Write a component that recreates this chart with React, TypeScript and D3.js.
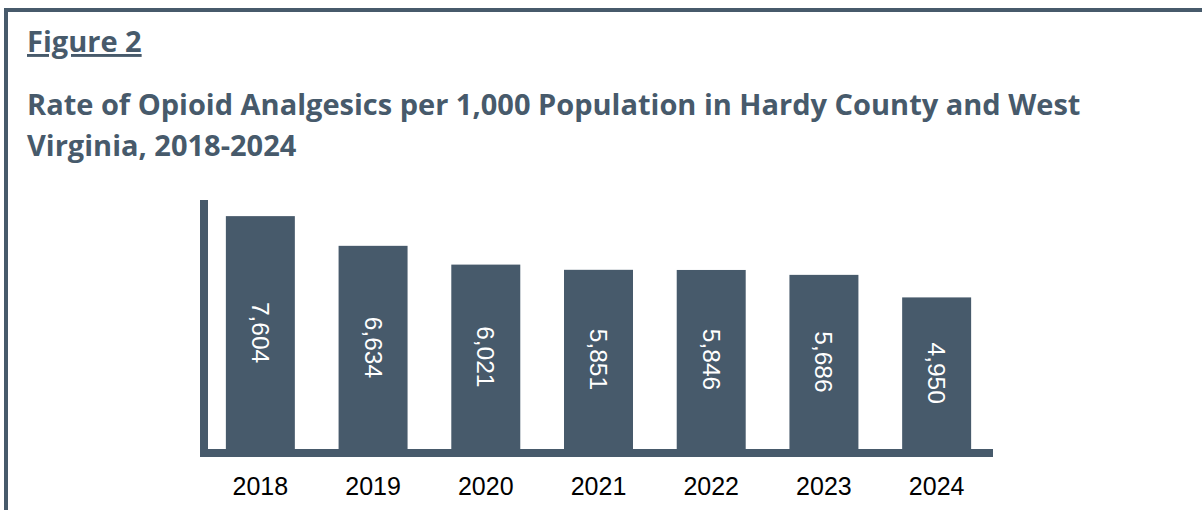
import React from "react";
import * as d3 from "d3";

const years = ["2018", "2019", "2020", "2021", "2022", "2023", "2024"];
const rates = [7604, 6634, 6021, 5851, 5846, 5686, 4950];
const yMax = 8000;
const figureLabel = "Figure 2";
const titleLines = [
  "Rate of Opioid Analgesics per 1,000 Population in Hardy County and West",
  "Virginia, 2018-2024",
];

const W = 1202;
const H = 510;
const SLATE = "#475a6b";

export default function App() {
  const x = d3.scaleBand<string>().domain(years).range([204, 993]).paddingInner(0.388).paddingOuter(0.194);
  const y = d3.scaleLinear().domain([0, yMax]).range([449, 204]);
  const fmt = d3.format(",");
  const titleFont = "'Open Sans', 'Noto Sans', sans-serif";
  const baselines = [115, 156];
  return (
    <svg width={W} height={H} style={{ position: "fixed", left: 0, top: 0, background: "#fff" }}>
      <rect x={0} y={0} width={W} height={H} fill="#fff" />
      {/* frame */}
      <rect x={6} y={10} width={W + 10} height={H + 10} fill="none" stroke={SLATE} strokeWidth={4} />
      <text x={27} y={52} fontFamily={titleFont} fontWeight={700} fontSize={29} fill={SLATE} textDecoration="underline">
        {figureLabel}
      </text>
      {titleLines.map((t, i) => (
        <text key={i} x={27} y={baselines[i]} fontFamily={titleFont} fontWeight={700} fontSize={29} fill={SLATE}>
          {t}
        </text>
      ))}
      {/* bars */}
      {years.map((yr, i) => {
        const bx = x(yr)!;
        const by = y(rates[i]);
        const bh = y(0) - by;
        const cx = bx + x.bandwidth() / 2;
        const cy = by + bh / 2;
        return (
          <g key={yr}>
            <rect x={bx} y={by} width={x.bandwidth()} height={bh} fill={SLATE} />
            <text
              transform={`translate(${cx},${cy}) rotate(90)`}
              textAnchor="middle"
              dominantBaseline="central"
              fontFamily="'Liberation Sans', Arial, sans-serif"
              fontSize={24.5}
              fill="#fff"
            >
              {fmt(rates[i])}
            </text>
            <text
              x={cx}
              y={495}
              textAnchor="middle"
              fontFamily="'Liberation Sans', Arial, sans-serif"
              fontSize={25}
              fill="#000"
            >
              {yr}
            </text>
          </g>
        );
      })}
      {/* axes */}
      <rect x={200} y={200} width={8} height={257} fill={SLATE} />
      <rect x={200} y={449} width={793} height={8} fill={SLATE} />
    </svg>
  );
}
